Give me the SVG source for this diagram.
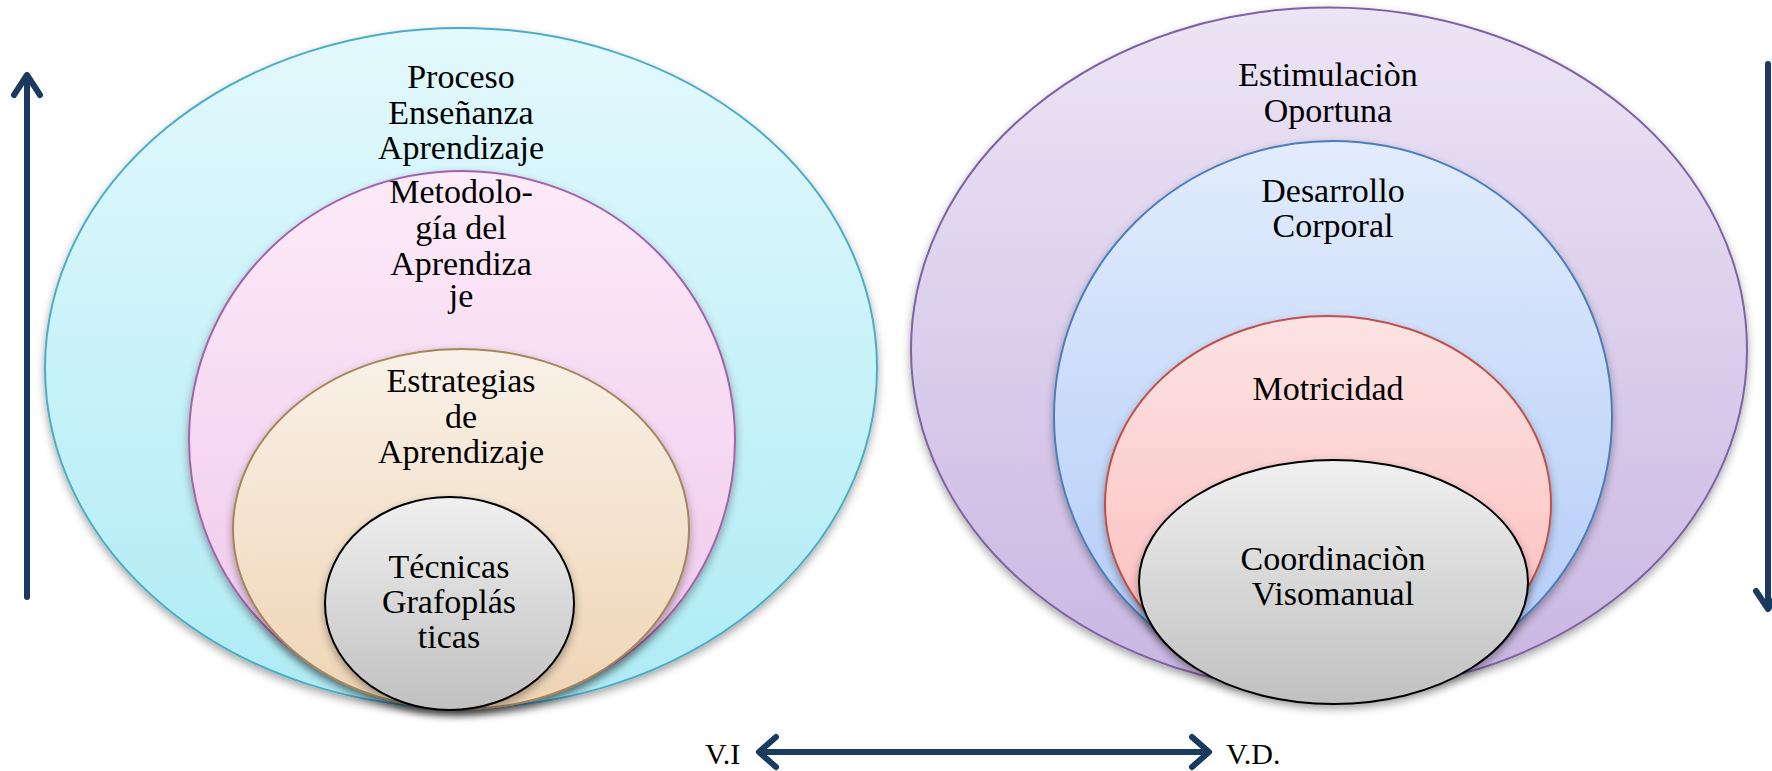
<svg xmlns="http://www.w3.org/2000/svg" width="1772" height="771" viewBox="0 0 1772 771" font-family="Liberation Serif, Times New Roman, DejaVu Serif, serif">
<defs>
<linearGradient id="gCyan" x1="0" y1="0" x2="0" y2="1"><stop offset="0" stop-color="#e3f9fd"/><stop offset="1" stop-color="#aeebf5"/></linearGradient>
<linearGradient id="gPink" x1="0" y1="0" x2="0" y2="1"><stop offset="0" stop-color="#fcebf8"/><stop offset="1" stop-color="#efc6ec"/></linearGradient>
<linearGradient id="gTan" x1="0" y1="0" x2="0" y2="1"><stop offset="0" stop-color="#f9f1e8"/><stop offset="1" stop-color="#efd4b4"/></linearGradient>
<linearGradient id="gGrey" x1="0" y1="0" x2="0" y2="1"><stop offset="0" stop-color="#f0f0f0"/><stop offset="1" stop-color="#c0c0c0"/></linearGradient>
<linearGradient id="gLav" x1="0" y1="0" x2="0" y2="1"><stop offset="0" stop-color="#ece5f5"/><stop offset="1" stop-color="#c9b6e2"/></linearGradient>
<linearGradient id="gBlue" x1="0" y1="0" x2="0" y2="1"><stop offset="0" stop-color="#e2ecfd"/><stop offset="1" stop-color="#b0caf7"/></linearGradient>
<linearGradient id="gRed" x1="0" y1="0" x2="0" y2="1"><stop offset="0" stop-color="#fde3e3"/><stop offset="1" stop-color="#fbb9b9"/></linearGradient>
<filter id="sh" x="-10%" y="-10%" width="120%" height="125%"><feDropShadow dx="0" dy="4" stdDeviation="4" flood-color="#000" flood-opacity="0.35"/></filter>
</defs>
<style>
.e{filter:url(#sh);stroke-width:2}
.t{font-size:34px;fill:#000;text-anchor:middle}
.lbl{font-size:30px;fill:#000}
.ar{fill:none;stroke:#1a3a60;stroke-width:6;stroke-linecap:round;stroke-linejoin:round}
</style>
<g id="proceso"><ellipse class="e" cx="461" cy="368" rx="416" ry="340" fill="url(#gCyan)" stroke="#4bacc6"/>
<text class="t" font-family="Liberation Serif, serif" x="461" y="88">Proceso</text><text class="t" font-family="Liberation Serif, serif" x="461" y="124">Enseñanza</text><text class="t" font-family="Liberation Serif, serif" x="461" y="159">Aprendizaje</text></g>
<g id="metodologia"><ellipse class="e" cx="462" cy="440" rx="273" ry="269" fill="url(#gPink)" stroke="#a364a8"/>
<text class="t" font-family="Liberation Serif, serif" x="461" y="203">Metodolo-</text><text class="t" font-family="Liberation Serif, serif" x="461" y="239">gía del</text><text class="t" font-family="Liberation Serif, serif" x="461" y="275">Aprendiza</text><text class="t" font-family="Liberation Serif, serif" x="461" y="307">je</text></g>
<g id="estrategias"><ellipse class="e" cx="461" cy="529" rx="228" ry="180" fill="url(#gTan)" stroke="#a5865a"/>
<text class="t" font-family="Liberation Serif, serif" x="461" y="392">Estrategias</text><text class="t" font-family="Liberation Serif, serif" x="461" y="428">de</text><text class="t" font-family="Liberation Serif, serif" x="461" y="463">Aprendizaje</text></g>
<g id="tecnicas"><ellipse class="e" cx="449.5" cy="603.5" rx="124.5" ry="106.5" fill="url(#gGrey)" stroke="#000"/>
<text class="t" font-family="Liberation Serif, serif" x="449" y="578">Técnicas</text><text class="t" font-family="Liberation Serif, serif" x="449" y="613">Grafoplás</text><text class="t" font-family="Liberation Serif, serif" x="449" y="648">ticas</text></g>
<g id="estimulacion"><ellipse class="e" cx="1329" cy="349.5" rx="418" ry="342" fill="url(#gLav)" stroke="#7f62a3"/>
<text class="t" font-family="Liberation Serif, serif" x="1328" y="86">Estimulaciòn</text><text class="t" font-family="Liberation Serif, serif" x="1328" y="122">Oportuna</text></g>
<g id="desarrollo"><ellipse class="e" cx="1333" cy="416.5" rx="279" ry="275.5" fill="url(#gBlue)" stroke="#4a7ebb"/>
<text class="t" font-family="Liberation Serif, serif" x="1333" y="202">Desarrollo</text><text class="t" font-family="Liberation Serif, serif" x="1333" y="237">Corporal</text></g>
<g id="motricidad"><ellipse class="e" cx="1328" cy="504" rx="223" ry="188" fill="url(#gRed)" stroke="#c0504d"/>
<text class="t" font-family="Liberation Serif, serif" x="1328" y="400">Motricidad</text></g>
<g id="coordinacion"><ellipse class="e" cx="1333.5" cy="582" rx="194.5" ry="122" fill="url(#gGrey)" stroke="#000"/>
<text class="t" font-family="Liberation Serif, serif" x="1333" y="570">Coordinaciòn</text><text class="t" font-family="Liberation Serif, serif" x="1333" y="605">Visomanual</text></g>
<g id="connectors">
<path class="ar" d="M27 597 V76 M14 95 L27 75 L40 95"/>
<path class="ar" d="M1768 64 V609 M1756 591 L1768 609 L1780 591"/>
<path class="ar" d="M760 752 H1208 M776 737 L759 752 L776 767 M1192 737 L1209 752 L1192 767"/>
<text class="lbl" font-family="Liberation Serif, serif" x="705" y="764">V.I</text>
<text class="lbl" font-family="Liberation Serif, serif" x="1226" y="764">V.D.</text>
</g>
</svg>
